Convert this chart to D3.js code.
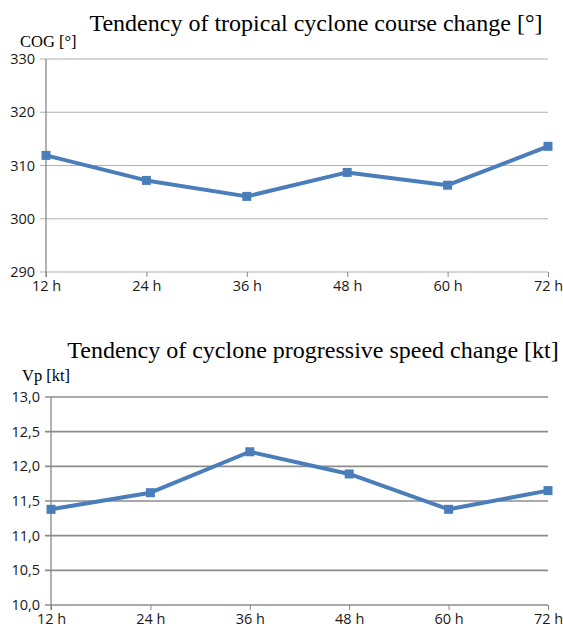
<!DOCTYPE html>
<html>
<head>
<meta charset="utf-8">
<script src="https://cdn.jsdelivr.net/npm/d3@7"></script>
<style>
  body { margin: 0; background: #fff; }
  .title { font-family: "Liberation Serif", serif; font-size: 24px; fill: #000; }
  .ylab { font-family: "Liberation Serif", serif; font-size: 16.5px; fill: #000; }
  .tick text { font-family: "Open Sans", sans-serif; font-size: 14.5px; fill: #1a1a1a; }
</style>
</head>
<body>
<svg id="canvas"></svg>
<script>
const hours = ["12 h", "24 h", "36 h", "48 h", "60 h", "72 h"];
const cogValues = [311.9, 307.2, 304.2, 308.7, 306.3, 313.6];
const cogTicks = [290, 300, 310, 320, 330];
const vpValues = [11.38, 11.62, 12.21, 11.89, 11.38, 11.65];
const vpTicks = [10.0, 10.5, 11.0, 11.5, 12.0, 12.5, 13.0];

const width = 563;
const height = 631;
const blue = "#4a7ebb";

let canvas = d3.select("#canvas").attr("width", width).attr("height", height);

let drawChart = (opt) => {
  let x = d3.scalePoint().domain(hours).range([opt.left, opt.right]);
  let y = d3.scaleLinear().domain(opt.domain).range([opt.bottom, opt.top]);
  let g = canvas.append("g");

  // gridlines
  g.selectAll(".grid")
    .data(opt.ticks)
    .enter()
    .append("line")
    .attr("x1", opt.left - 6)
    .attr("x2", opt.right)
    .attr("y1", (d) => y(d))
    .attr("y2", (d) => y(d))
    .attr("stroke", opt.gridColor)
    .attr("stroke-width", opt.gridWidth);

  // y axis
  let yAxis = d3.axisLeft(y).tickValues(opt.ticks).tickSize(0).tickPadding(11).tickFormat(opt.fmt);
  g.append("g").attr("transform", "translate(" + opt.left + ",0)").call(yAxis)
    .call((s) => s.select(".domain").remove());
  g.append("line")
    .attr("x1", opt.left).attr("x2", opt.left)
    .attr("y1", opt.top).attr("y2", opt.bottom + 5)
    .attr("stroke", "#888").attr("stroke-width", 1.3);

  // x axis
  let xAxis = d3.axisBottom(x).tickSize(5).tickPadding(4);
  g.append("g").attr("transform", "translate(0," + opt.bottom + ")").call(xAxis)
    .call((s) => s.select(".domain").remove())
    .call((s) => s.selectAll(".tick line").attr("stroke", "#888"));

  let line = d3.line().x((d, i) => x(hours[i])).y((d) => y(d));
  g.append("path")
    .datum(opt.values)
    .attr("d", line)
    .attr("fill", "none")
    .attr("stroke", blue)
    .attr("stroke-width", 4)
    .attr("stroke-linejoin", "round");

  g.selectAll(".pt")
    .data(opt.values)
    .enter()
    .append("rect")
    .attr("x", (d, i) => x(hours[i]) - 4.5)
    .attr("y", (d) => y(d) - 4.5)
    .attr("width", 9)
    .attr("height", 9)
    .attr("fill", blue);

  canvas.append("text").attr("class", "title")
    .attr("x", opt.titleX).attr("y", opt.titleY)
    .attr("text-anchor", "middle").text(opt.title);
  canvas.append("text").attr("class", "ylab")
    .attr("x", opt.labX).attr("y", opt.labY).text(opt.label);
};

drawChart({
  values: cogValues, ticks: cogTicks, domain: [290, 330],
  left: 46, right: 548, top: 59, bottom: 272,
  gridColor: "#b0b0b0", gridWidth: 1.2, fmt: d3.format("d"),
  title: "Tendency of tropical cyclone course change [°]", titleX: 316, titleY: 31,
  label: "COG [°]", labX: 20, labY: 47
});

drawChart({
  values: vpValues, ticks: vpTicks, domain: [10, 13],
  left: 51, right: 548, top: 397, bottom: 605,
  gridColor: "#8c8c8c", gridWidth: 1.6, fmt: (d) => d.toFixed(1).replace(".", ","),
  title: "Tendency of cyclone progressive speed change [kt]", titleX: 313, titleY: 358,
  label: "Vp [kt]", labX: 22, labY: 381
});
</script>
</body>
</html>
